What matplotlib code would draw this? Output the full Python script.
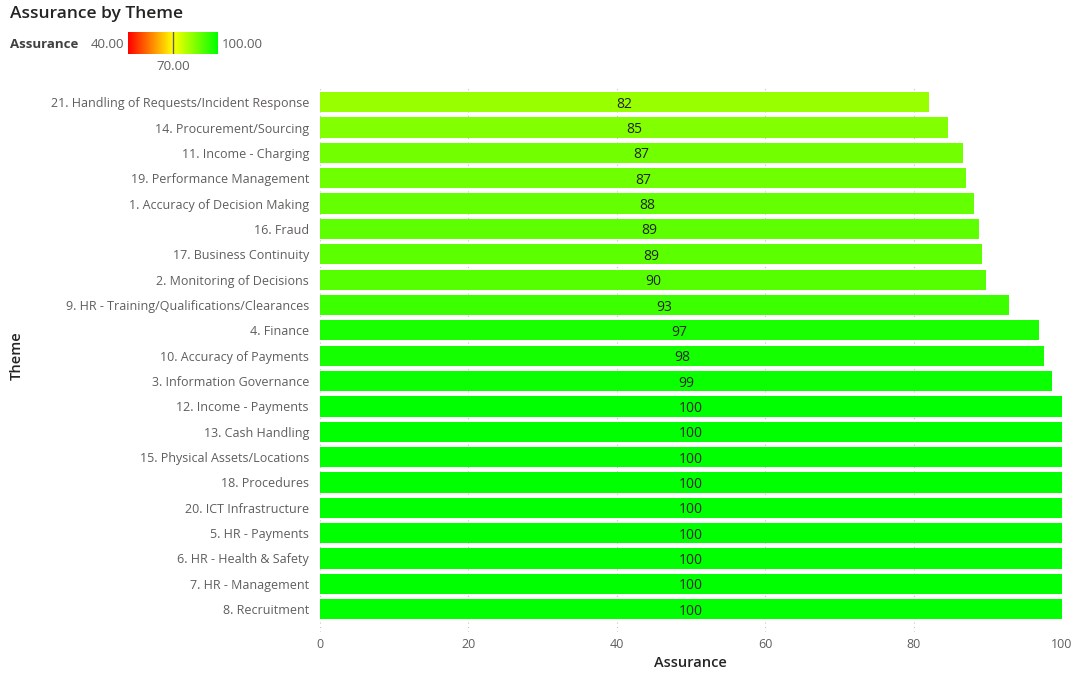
import matplotlib
matplotlib.use("Agg")
import matplotlib.pyplot as plt
import numpy as np
from matplotlib.colors import LinearSegmentedColormap, Normalize

plt.rcParams['font.family'] = ['Open Sans', 'DejaVu Sans']

themes = [
    "21. Handling of Requests/Incident Response",
    "14. Procurement/Sourcing",
    "11. Income - Charging",
    "19. Performance Management",
    "1. Accuracy of Decision Making",
    "16. Fraud",
    "17. Business Continuity",
    "2. Monitoring of Decisions",
    "9. HR - Training/Qualifications/Clearances",
    "4. Finance",
    "10. Accuracy of Payments",
    "3. Information Governance",
    "12. Income - Payments",
    "13. Cash Handling",
    "15. Physical Assets/Locations",
    "18. Procedures",
    "20. ICT Infrastructure",
    "5. HR - Payments",
    "6. HR - Health & Safety",
    "7. HR - Management",
    "8. Recruitment",
]
assurance = [82.1, 84.6, 86.6, 87.1, 88.1, 88.8, 89.2, 89.7, 92.8, 96.9, 97.6, 98.6,
             100, 100, 100, 100, 100, 100, 100, 100, 100]
scale_min, scale_mid, scale_max = 40, 70, 100
xticks = [0, 20, 40, 60, 80, 100]

cmap = LinearSegmentedColormap.from_list(
    "rag", [(0.0, "#FF0000"), (0.5, "#FFFF00"), (1.0, "#00FF00")])
norm = Normalize(scale_min, scale_max)

fig = plt.figure(figsize=(10.76, 6.75), dpi=100)
ax = fig.add_axes([320/1076, 1-632/675, 742/1076, (632-87)/675])

y = np.arange(len(themes))
colors = [cmap(norm(v)) for v in assurance]
ax.barh(y, assurance, height=0.8, color=colors, zorder=2)
for yi, v in zip(y, assurance):
    ax.text(v/2, yi, f"{round(v):.0f}", ha="center", va="center_baseline",
            fontsize=10, color="#252423", zorder=3)

ax.set_xlim(0, 100)
ax.set_ylim(len(themes)-0.1, -0.6)
ax.set_yticks(y)
ax.set_yticklabels(themes, fontsize=9, color="#605E5C")
ax.set_xticks(xticks)
ax.set_xticklabels([str(t) for t in xticks], fontsize=9, color="#605E5C")
ax.tick_params(length=0, pad=8)
ax.tick_params(axis='x', pad=4)
for s in ax.spines.values():
    s.set_visible(False)
ax.grid(axis='x', color="#C8C6C4", linestyle=(0, (1, 3)), linewidth=0.8, zorder=0)
ax.set_axisbelow(True)

fig.text(319/1076 + 742/1076*0.5, 1-663/675, "Assurance", ha="center", va="center",
         fontsize=10.5, fontweight="semibold", color="#252423")
fig.text(17/1076, 1-356/675, "Theme", ha="center", va="center", rotation=90,
         fontsize=10.5, fontweight="semibold", color="#252423")

fig.text(10/1076, 1-14/675, "Assurance by Theme", ha="left", va="center",
         fontsize=12.5, fontweight="semibold", color="#252423")
fig.text(10/1076, 1-44/675, "Assurance", ha="left", va="center",
         fontsize=9.5, fontweight="bold", color="#404040")
fig.text(124/1076, 1-44/675, f"{scale_min:.2f}", ha="right", va="center",
         fontsize=9.5, color="#605E5C")
fig.text(222/1076, 1-44/675, f"{scale_max:.2f}", ha="left", va="center",
         fontsize=9.5, color="#605E5C")
fig.text(173/1076, 1-66/675, f"{scale_mid:.2f}", ha="center", va="center",
         fontsize=9.5, color="#605E5C")
lax = fig.add_axes([128/1076, 1-54/675, 90/1076, 22/675])
grad = np.linspace(scale_min, scale_max, 256).reshape(1, -1)
lax.imshow(grad, aspect="auto", cmap=cmap, norm=norm,
           extent=[scale_min, scale_max, 0, 1])
lax.axvline(scale_mid, color="#605E5C", linewidth=1)
lax.set_xlim(scale_min, scale_max)
lax.axis("off")

fig.savefig("out.png", dpi=100, facecolor="white")
